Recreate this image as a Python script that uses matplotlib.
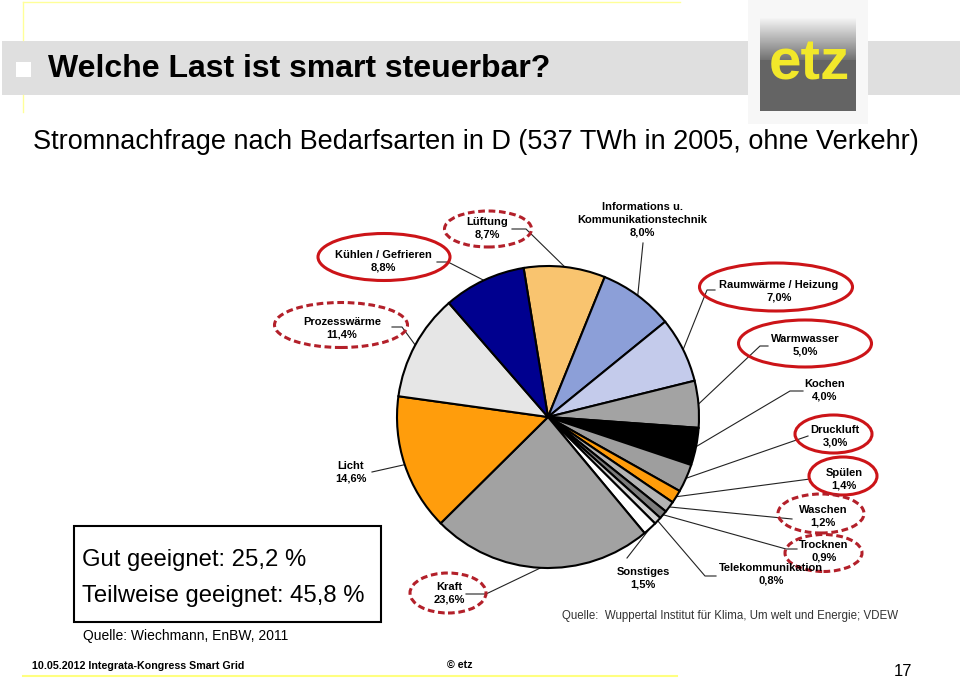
import numpy as np
import matplotlib
matplotlib.use("Agg")
import matplotlib.pyplot as plt
from matplotlib.patches import Rectangle, Ellipse

plt.rcParams['font.family'] = ['Liberation Sans', 'DejaVu Sans']

# ---------------- data ----------------
categories = ["Lüftung", "Informations u.\nKommunikationstechnik", "Raumwärme / Heizung",
              "Warmwasser", "Kochen", "Druckluft", "Spülen", "Waschen", "Trocknen",
              "Telekommunikation", "Sonstiges", "Kraft", "Licht", "Prozesswärme",
              "Kühlen / Gefrieren"]
shares = [8.7, 8.0, 7.0, 5.0, 4.0, 3.0, 1.4, 1.2, 0.9, 0.8, 1.5, 23.6, 14.6, 11.4, 8.8]
# "gut" = gut geeignet (solid ring), "teil" = teilweise geeignet (dashed ring)
suitability = ["teil", None, "gut", "gut", None, "gut", "gut", "teil", "teil",
               None, None, "teil", None, "teil", "gut"]
slice_colors = ["#f9c46f", "#8c9fd8", "#c4cbeb", "#a3a3a3", "#000000", "#9e9e9e",
                "#ff9c0a", "#b4b4b4", "#7c7c7c", "#d2d2d2", "#ffffff", "#a2a2a2",
                "#ff9d0c", "#e6e6e6", "#00008f"]

title = "Welche Last ist smart steuerbar?"
subtitle = "Stromnachfrage nach Bedarfsarten in D (537 TWh in 2005, ohne Verkehr)"
source_chart = "Quelle:  Wuppertal Institut für Klima, Um welt und Energie; VDEW"
source_box = "Quelle: Wiechmann, EnBW, 2011"
footer_left = "10.05.2012 Integrata-Kongress Smart Grid"
footer_mid = "© etz"
page_no = "17"

# ---------------- layout (pixel coordinates, y downward) ----------------
W, H = 960, 680
label_pos = {0: (487, 228.5), 1: (642, 220), 2: (779, 291.5), 3: (805, 345.5),
             4: (825, 390.5), 5: (835, 436), 6: (844, 479), 7: (823, 516),
             8: (824, 551), 9: (771, 574.5), 10: (643, 578), 11: (449, 593),
             12: (351, 472), 13: (342, 328), 14: (383, 261)}
leader = {0: [(526, 229), (512, 229)], 1: [(643, 243)], 2: [(707, 290), (715, 290)],
          3: [(760, 346), (768, 346)], 4: [(790, 391), (803, 391)], 5: [(808, 436)],
          6: [(810, 479)], 7: [(792, 519)], 8: [(786, 549), (797, 549)],
          9: [(705, 576), (716, 576)], 10: [(627, 558)], 11: [(486, 594), (466, 594)],
          12: [(372, 472)], 13: [(402, 327), (392, 327)], 14: [(448, 262), (437, 262)]}
ring = {0: (488, 229, 87, 36), 2: (776, 287, 153, 48), 3: (805, 343.5, 133, 47),
        5: (833.5, 434, 77, 38), 6: (843, 476, 68, 38), 7: (821, 513.5, 86, 39),
        8: (823.5, 553, 77, 37), 11: (448, 593, 76, 40), 13: (341, 325, 133, 45),
        14: (384, 257, 132, 47)}


def Y(y):
    return H - y


fig = plt.figure(figsize=(9.6, 6.8), dpi=100)
ax = fig.add_axes([0, 0, 1, 1])
ax.set_facecolor("white")

# ---------------- header ----------------
ax.add_patch(Rectangle((2, Y(95)), 746, 54, facecolor="#dfdfdf", edgecolor="none", zorder=1))
ax.add_patch(Rectangle((868, Y(95)), 92, 54, facecolor="#dfdfdf", edgecolor="none", zorder=1))
ax.add_patch(Rectangle((16, Y(77)), 15, 15, facecolor="white", edgecolor="none", zorder=2))
ax.plot([23, 680], [Y(2), Y(2)], color="#ffff99", lw=1, zorder=1)
ax.plot([23, 23], [Y(2), Y(40)], color="#ffff99", lw=1, zorder=1)
ax.plot([23, 23], [Y(95), Y(112)], color="#ffff99", lw=1, zorder=1)
ax.text(48, Y(77), title, fontsize=23, fontweight="bold", ha="left", va="baseline", zorder=3)

# logo
ax.add_patch(Rectangle((748, Y(124)), 120, 124, facecolor="#f7f7f7", edgecolor="none", zorder=2))
grad = np.linspace(0.97, 0.45, 64).reshape(-1, 1)
ax.imshow(grad, cmap="gray", vmin=0, vmax=1, extent=(760, 856, Y(60), Y(17)),
          aspect="auto", zorder=3, interpolation="bilinear")
ax.add_patch(Rectangle((760, Y(111)), 96, 51, facecolor="#646464", edgecolor="none", zorder=3))
ax.text(809, Y(79), "etz", fontsize=42, fontweight="bold", color="#f2e82a",
        ha="center", va="baseline", zorder=4)

ax.text(33, Y(149), subtitle, fontsize=19.5, ha="left", va="baseline", zorder=3)

# ---------------- pie ----------------
wedges, _ = ax.pie(shares, colors=slice_colors, startangle=99.3, counterclock=False,
                   center=(548, Y(417)), radius=151, frame=True,
                   wedgeprops=dict(edgecolor="black", linewidth=1.5))
cx, cy = 548, Y(417)
for i, w in enumerate(wedges):
    w.set_zorder(5)
    mid = np.deg2rad((w.theta1 + w.theta2) / 2)
    rx, ry = cx + w.r * np.cos(mid), cy + w.r * np.sin(mid)
    pts = [(rx, ry)] + [(px, Y(py)) for px, py in leader[i]]
    ax.plot([p[0] for p in pts], [p[1] for p in pts], color="#222222", lw=0.8, zorder=4)
    if i in ring:
        ex, ey, ew, eh = ring[i]
        dashed = suitability[i] == "teil"
        ax.add_patch(Ellipse((ex, Y(ey)), ew, eh, fill=False,
                             edgecolor="#b3202a" if dashed else "#cc1418",
                             lw=2.2, linestyle=(0, (2.2, 1.2)) if dashed else "-",
                             zorder=6))
    lx, ly = label_pos[i]
    pct = f"{shares[i]:.1f}".replace(".", ",") + "%"
    ax.text(lx, Y(ly), categories[i] + "\n" + pct, fontsize=8, fontweight="bold",
            ha="center", va="center", linespacing=1.35, zorder=7)

ax.text(562, Y(619), source_chart, fontsize=8.3, color="#333333", ha="left",
        va="baseline", zorder=3)

# ---------------- summary box ----------------
good = sum(s for s, k in zip(shares, suitability) if k == "gut")
part = sum(s for s, k in zip(shares, suitability) if k == "teil")
ax.add_patch(Rectangle((74, Y(622)), 307, 96, facecolor="white", edgecolor="black",
                       lw=1.5, zorder=3))
ax.text(82, Y(566), "Gut geeignet: " + f"{good:.1f}".replace(".", ",") + " %",
        fontsize=17.2, ha="left", va="baseline", zorder=4)
ax.text(82, Y(602), "Teilweise geeignet: " + f"{part:.1f}".replace(".", ",") + " %",
        fontsize=17.2, ha="left", va="baseline", zorder=4)
ax.text(83, Y(640), source_box, fontsize=10, ha="left", va="baseline", zorder=3)

# ---------------- footer ----------------
ax.plot([23, 677], [Y(676), Y(676)], color="#ffff80", lw=1.5, zorder=1)
ax.text(32, Y(669), footer_left, fontsize=7.7, fontweight="bold", ha="left", va="baseline")
ax.text(447, Y(669), footer_mid, fontsize=7.7, fontweight="bold", ha="left", va="baseline")
ax.text(912, Y(676), page_no, fontsize=12, ha="right", va="baseline")

ax.set_xlim(0, W)
ax.set_ylim(0, H)
ax.set_aspect("auto")
ax.axis("off")

fig.savefig("out.png", dpi=100, facecolor="white")
